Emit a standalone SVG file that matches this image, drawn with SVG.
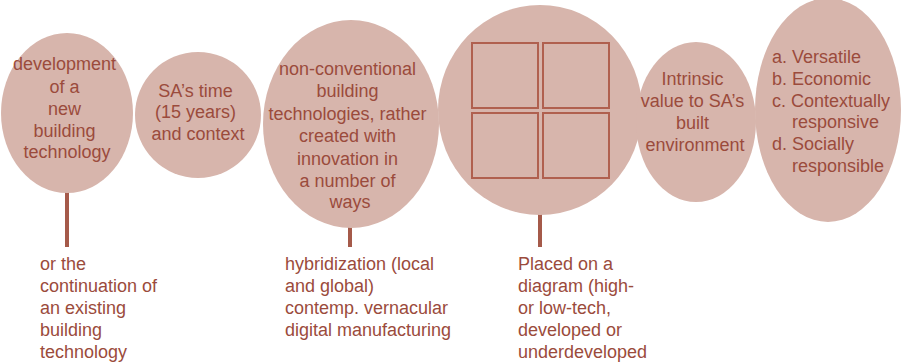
<svg xmlns="http://www.w3.org/2000/svg" width="903" height="364" viewBox="0 0 903 364">
  <style>
    .bubble { fill: #d7b5ac; }
    .label { font-family: "Liberation Sans", Arial, sans-serif; font-size: 18px; fill: #9b4b3c; }
    .mid { text-anchor: middle; }
    .stem { stroke: #a55a4a; stroke-width: 4; fill: none; }
    .box { fill: none; stroke: #b0604f; stroke-width: 2; }
  </style>
  <rect width="903" height="364" fill="#ffffff"/>

  <g id="connectors">
    <line class="stem" x1="67" y1="190" x2="67" y2="247"/>
    <line class="stem" x1="350" y1="224" x2="350" y2="247"/>
    <line class="stem" x1="540" y1="212" x2="540" y2="247"/>
  </g>

  <g id="node-development">
    <ellipse class="bubble" cx="67" cy="113" rx="66" ry="80"/>
    <text class="label mid" x="67">
      <tspan x="67" y="70">development</tspan>
      <tspan x="67" y="93">of a</tspan>
      <tspan x="67" y="115">new</tspan>
      <tspan x="67" y="137">building</tspan>
      <tspan x="67" y="158">technology</tspan>
    </text>
  </g>

  <g id="node-time">
    <circle class="bubble" cx="198" cy="115" r="63"/>
    <text class="label mid">
      <tspan x="198" y="97">SA’s time</tspan>
      <tspan x="198" y="118">(15 years)</tspan>
      <tspan x="198" y="140">and context</tspan>
    </text>
  </g>

  <g id="node-nonconventional">
    <ellipse class="bubble" cx="351" cy="124" rx="88" ry="104"/>
    <text class="label mid">
      <tspan x="350" y="75">non-conventional</tspan>
      <tspan x="350" y="97">building</tspan>
      <tspan x="350" y="120">technologies, rather</tspan>
      <tspan x="350" y="142">created with</tspan>
      <tspan x="350" y="165">innovation in</tspan>
      <tspan x="350" y="187">a number of</tspan>
      <tspan x="350" y="208">ways</tspan>
    </text>
  </g>

  <g id="node-quadrant">
    <ellipse class="bubble" cx="540" cy="110" rx="102" ry="105"/>
    <rect class="box" x="472" y="43" width="66" height="65"/>
    <rect class="box" x="543" y="43" width="66" height="65"/>
    <rect class="box" x="472" y="113" width="66" height="65"/>
    <rect class="box" x="543" y="113" width="66" height="65"/>
  </g>

  <g id="node-intrinsic">
    <ellipse class="bubble" cx="696" cy="122" rx="60" ry="80"/>
    <text class="label mid">
      <tspan x="695" y="85">Intrinsic</tspan>
      <tspan x="695" y="107">value to SA’s</tspan>
      <tspan x="695" y="129">built</tspan>
      <tspan x="695" y="151">environment</tspan>
    </text>
  </g>

  <g id="node-criteria">
    <ellipse class="bubble" cx="828" cy="110" rx="73" ry="112"/>
    <text class="label">
      <tspan x="772" y="63">a. Versatile</tspan>
      <tspan x="772" y="85">b. Economic</tspan>
      <tspan x="772" y="107">c. Contextually</tspan>
      <tspan x="792" y="128">responsive</tspan>
      <tspan x="772" y="150">d. Socially</tspan>
      <tspan x="792" y="172">responsible</tspan>
    </text>
  </g>

  <g id="note-continuation">
    <text class="label">
      <tspan x="40" y="270">or the</tspan>
      <tspan x="40" y="292">continuation of</tspan>
      <tspan x="40" y="314">an existing</tspan>
      <tspan x="40" y="336">building</tspan>
      <tspan x="40" y="358">technology</tspan>
    </text>
  </g>

  <g id="note-hybridization">
    <text class="label">
      <tspan x="285" y="270">hybridization (local</tspan>
      <tspan x="285" y="292">and global)</tspan>
      <tspan x="285" y="314">contemp. vernacular</tspan>
      <tspan x="285" y="336">digital manufacturing</tspan>
    </text>
  </g>

  <g id="note-placed">
    <text class="label">
      <tspan x="518" y="270">Placed on a</tspan>
      <tspan x="518" y="292">diagram (high-</tspan>
      <tspan x="518" y="314">or low-tech,</tspan>
      <tspan x="518" y="336">developed or</tspan>
      <tspan x="518" y="358">underdeveloped</tspan>
    </text>
  </g>
</svg>
